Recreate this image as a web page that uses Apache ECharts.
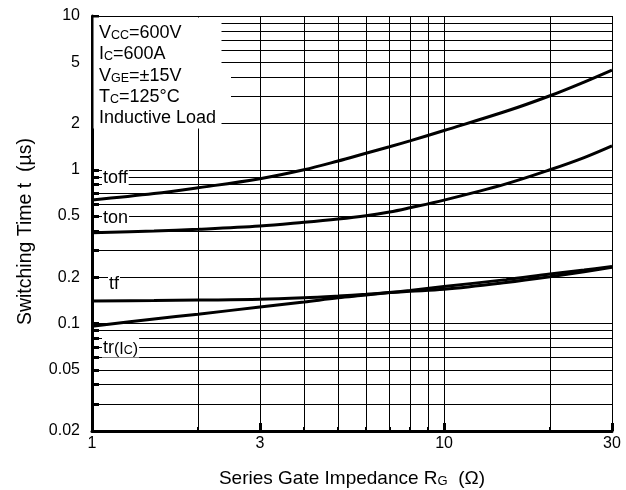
<!DOCTYPE html>
<html><head><meta charset="utf-8">
<script src="https://cdn.jsdelivr.net/npm/echarts@6/dist/echarts.min.js"></script>
<style>html,body{margin:0;padding:0;background:#fff}#c{width:626px;height:490px}</style>
</head><body><div id="c"></div>
<script>
// ---- data ----
const rg   = [1, 1.5, 2, 3, 4, 5, 6, 7, 8, 10, 15, 20, 25, 30];
const toff = [0.635, 0.70, 0.764, 0.875, 1.0, 1.14, 1.28, 1.41, 1.54, 1.8, 2.4, 3.03, 3.72, 4.45];
const ton  = [0.39, 0.40, 0.41, 0.43, 0.455, 0.478, 0.502, 0.531, 0.566, 0.635, 0.81, 1.0, 1.2, 1.43];
const tf   = [0.14, 0.141, 0.142, 0.1436, 0.147, 0.151, 0.155, 0.159, 0.162, 0.167, 0.185, 0.2015, 0.217, 0.232];
const tr   = [0.096, 0.107, 0.115, 0.128, 0.138, 0.147, 0.153, 0.159, 0.164, 0.174, 0.193, 0.21, 0.223, 0.235];
const xGrid   = [1, 2, 3, 4, 5, 6, 7, 8, 9, 10, 20, 30];
const xLabels = [1, 3, 10, 30];
const yGrid   = [0.02, 0.03, 0.04, 0.05, 0.06, 0.07, 0.08, 0.09, 0.1, 0.2, 0.3, 0.4, 0.5, 0.6, 0.7, 0.8, 0.9, 1, 2, 3, 4, 5, 6, 7, 8, 9, 10];
const yLabels = [0.02, 0.05, 0.1, 0.2, 0.5, 1, 2, 5, 10];

const F = '"Liberation Sans", Arial, Helvetica, sans-serif';
const chart = echarts.init(document.getElementById('c'));
const pair = arr => rg.map((x, i) => [x, arr[i]]);
const lineSeries = (name, arr) => ({
  name, type: 'line', data: pair(arr), smooth: 0.35, symbol: 'none', silent: true,
  lineStyle: { color: '#000', width: 3 }, z: 3
});
const R = {
  n: { fontSize: 18, fontFamily: F, color: '#000', lineHeight: 21, verticalAlign: 'bottom' },
  s: { fontSize: 12.5, fontFamily: F, color: '#000', lineHeight: 16, verticalAlign: 'bottom' },
  p: { fontSize: 16, fontFamily: F, color: '#000', lineHeight: 21, verticalAlign: 'bottom' },
  u: { fontSize: 12.5, fontFamily: F, color: '#000', lineHeight: 6, verticalAlign: 'bottom' }
};
const txt = (x, y, text, bg) => ({
  type: 'text', x, y, z: 12, silent: true,
  style: Object.assign({ text, rich: R, align: 'left', verticalAlign: 'middle', fontFamily: F, fontSize: 18 },
    bg ? { backgroundColor: '#fff', padding: [0, 1] } : {})
});

chart.setOption({
  animation: false,
  backgroundColor: '#fff',
  grid: { left: 92, right: 14, top: 16, bottom: 59, outerBoundsMode: 'none', containLabel: false },
  xAxis: [{
    type: 'log', logBase: 10, min: 1, max: 30,
    name: '{n|Series Gate Impedance R}{s|G}{n|  (Ω)}',
    nameLocation: 'middle', nameGap: 35,
    nameTextStyle: { rich: {
      n: { fontSize: 19, fontFamily: F, color: '#000', lineHeight: 22, verticalAlign: 'bottom' },
      s: { fontSize: 13, fontFamily: F, color: '#000', lineHeight: 17, verticalAlign: 'bottom' } } },
    axisLine: { show: true, lineStyle: { color: '#000', width: 3 } },
    axisTick: { show: true, inside: true, length: 4, lineStyle: { color: '#000', width: 2 }, customValues: xGrid },
    axisLabel: { customValues: xLabels, formatter: v => String(+(+v).toPrecision(4)), fontSize: 16, fontFamily: F, color: '#000', margin: 5 },
    splitLine: { show: true, lineStyle: { color: '#000', width: 1 } },
    minorTick: { show: false }, minorSplitLine: { show: false }
  }, {
    type: 'log', logBase: 10, min: 1, max: 30, position: 'bottom', offset: 0,
    axisLine: { show: false },
    axisTick: { show: true, inside: true, length: 8, lineStyle: { color: '#000', width: 3 }, customValues: xLabels },
    axisLabel: { show: false },
    splitLine: { show: false }
  }],
  yAxis: {
    type: 'log', logBase: 10, min: 0.02, max: 10,
    name: 'Switching Time t  (µs)',
    nameLocation: 'middle', nameGap: 56,
    nameTextStyle: { fontSize: 19.5, fontFamily: F, color: '#000', padding: [0, 16, 0, 0] },
    axisLine: { show: true, lineStyle: { color: '#000', width: 3 } },
    axisTick: { show: true, inside: true, length: 7, lineStyle: { color: '#000', width: 3 }, customValues: yGrid },
    axisLabel: { customValues: yLabels, formatter: v => String(+(+v).toPrecision(4)), fontSize: 16, fontFamily: F, color: '#000', margin: 12 },
    splitLine: { show: true, lineStyle: { color: '#000', width: 1 } }
  },
  series: [
    lineSeries('toff', toff),
    lineSeries('ton', ton),
    lineSeries('tf', tf),
    lineSeries('tr', tr)
  ],
  graphic: [
    { type: 'rect', z: 10, silent: true, shape: { x: 93.5, y: 17.5, width: 128, height: 111 }, style: { fill: '#fff' } },
    { type: 'rect', z: 10, silent: true, shape: { x: 221, y: 70, width: 10, height: 32 }, style: { fill: '#fff' } },
    txt(99, 32, '{n|V}{s|CC}{n|=600V}'),
    txt(99, 53, '{n|I}{s|C}{n|=600A}'),
    txt(99, 75, '{n|V}{s|GE}{n|=±15V}'),
    txt(99, 96, '{n|T}{s|C}{n|=125°C}'),
    txt(99, 117, '{n|Inductive Load}'),
    txt(102, 177, '{n|toff}', true),
    txt(102, 217, '{n|ton}', true),
    txt(108, 283, '{n|tf}', true),
    txt(102, 347, '{n|tr}{p|(I}{u|C}{p|)}', true)
  ]
});
</script>
</body></html>
